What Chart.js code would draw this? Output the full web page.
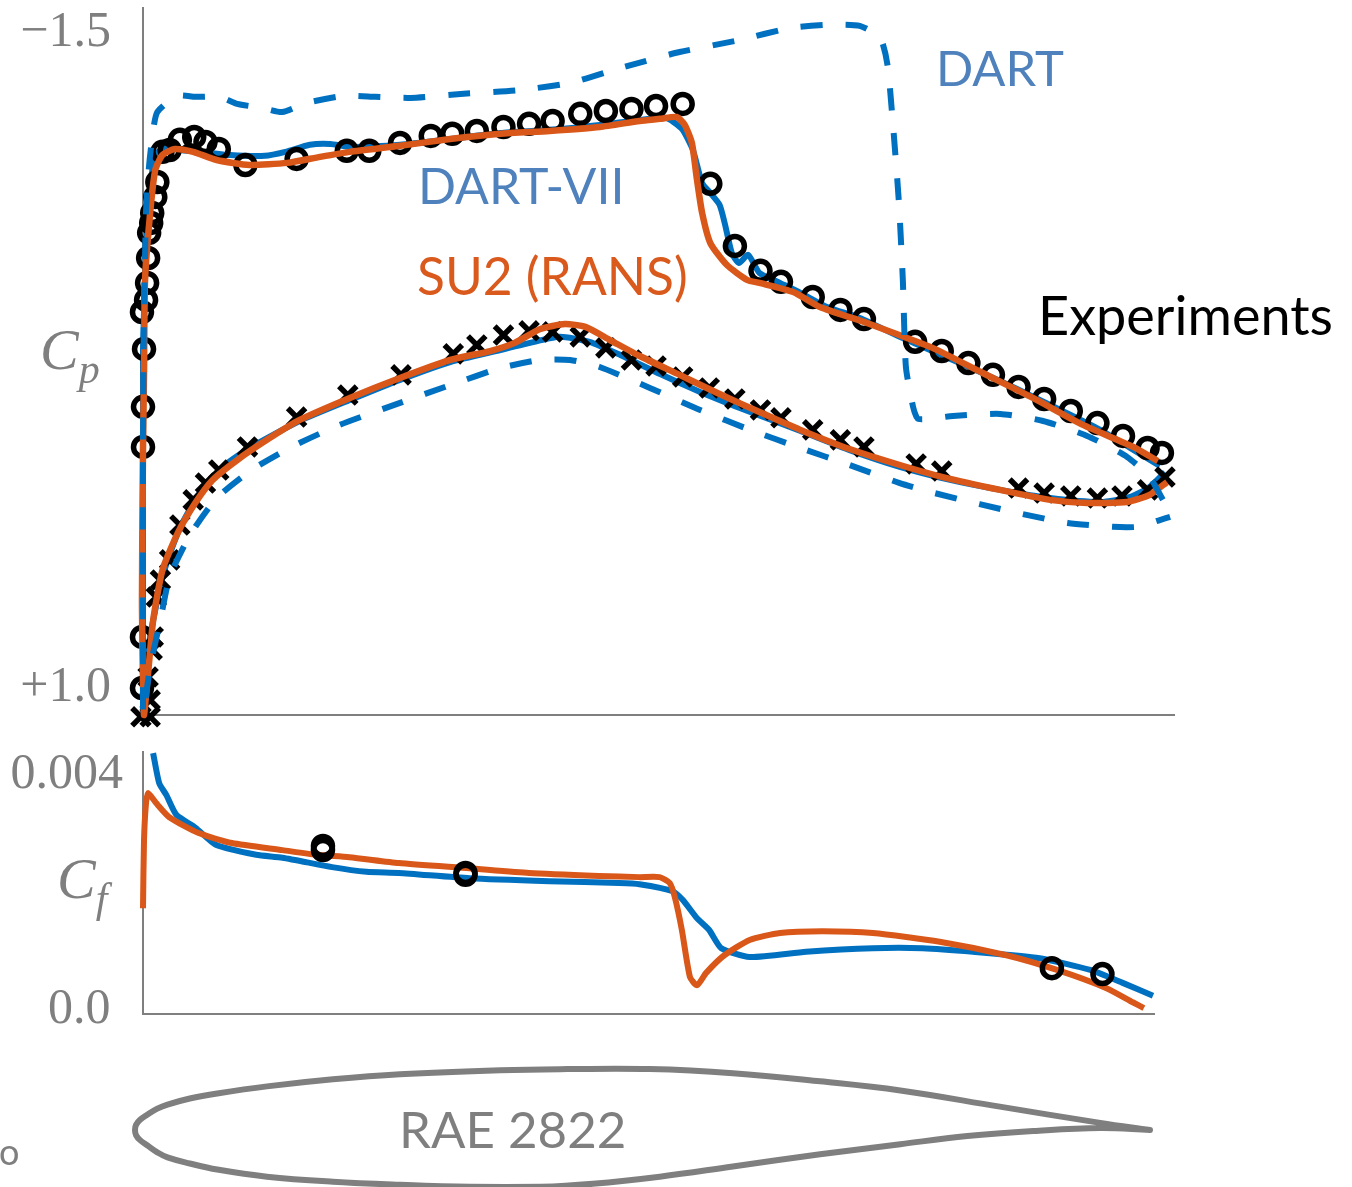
<!DOCTYPE html>
<html lang="en">
<head>
  <meta charset="UTF-8">
  <title>RAE 2822 Cp and Cf</title>
  <style>
    body { margin: 0; background: white; }
    #page { position: relative; width: 1352px; height: 1187px; overflow: hidden; }
    #page canvas { position: absolute; left: 0; }
    .label { position: absolute; white-space: nowrap; line-height: 1; font-family: Lato, sans-serif; font-size: 50px; }
    .math { font-family: "Liberation Serif", serif; font-style: italic; color: #7f7f7f; font-size: 58px; }
    .math sub { font-size: 42px; line-height: 0; vertical-align: -14px; }
  </style>
  <script src="https://cdn.jsdelivr.net/npm/chart.js"></script>
</head>
<body>
  <div id="page">
    <canvas id="cpCanvas" width="1352" height="730" style="top:0"></canvas>
    <canvas id="cfCanvas" width="1352" height="300" style="top:740px"></canvas>
    <canvas id="foilCanvas" width="1352" height="147" style="top:1040px"></canvas>

    <span class="label" style="left:936px;top:43px;color:#4f81bd;font-size:49px">DART</span>
    <span class="label" style="left:418px;top:160px;color:#4f81bd">DART-VII</span>
    <span class="label" style="left:417px;top:250px;color:#d95a1c;font-size:51.5px">SU2 (RANS)</span>
    <span class="label" style="left:1038px;top:288px;color:#000;font-size:54px">Experiments</span>
    <span class="label math" style="left:40px;top:321px">C<sub>p</sub></span>
    <span class="label math" style="left:57px;top:850px">C<sub>f</sub></span>
    <span class="label" style="left:399px;top:1103px;color:#7f7f7f;font-size:51px">RAE 2822</span>
    <span class="label" style="left:-1px;top:1133px;font-size:36px;color:#7f7f7f">o</span>
  </div>

  <script>
    const cpTicks = [-1.5, 1.0];
    const cpTickLabels = ["\u22121.5", "+1.0"];
    const cfTicks = [0.004, 0];
    const cfTickLabels = ["0.004", "0.0 "];

    // x/c, Cp, leading edge to trailing edge
    const expUpper = [[.002,.080],[.002,-.073],[.003,-.294],[.001,-.435],[.005,-.481],[.006,-.546],[.007,-.641],[.008,-.737],[.010,-.775],[.011,-.813],[.014,-.874],[.016,-.931],[.021,-1.046],[.028,-1.053],[.038,-1.092],[.052,-1.103],[.063,-1.084],[.076,-1.057],[.102,-.996],[.152,-1.019],[.201,-1.050],[.223,-1.050],[.253,-1.080],[.283,-1.107],[.304,-1.115],[.328,-1.126],[.354,-1.141],[.379,-1.153],[.402,-1.164],[.429,-1.191],[.454,-1.202],[.479,-1.210],[.503,-1.221],[.529,-1.229],[.556,-.924],[.580,-.687],[.605,-.592],[.625,-.550],[.656,-.492],[.683,-.443],[.706,-.408],[.756,-.321],[.782,-.286],[.808,-.240],[.832,-.195],[.857,-.149],[.882,-.103],[.908,-.057],[.934,-.011],[.959,.038],[.983,.084],[.997,.103],[.001,.805],[.001,1.0]];
    const expLower = [[.000,1.11],[.009,1.11],[.009,1.046],[.007,.958],[.011,.855],[.012,.805],[.015,.653],[.019,.588],[.028,.511],[.038,.378],[.051,.282],[.063,.218],[.076,.168],[.104,.080],[.152,-.034],[.202,-.118],[.254,-.195],[.305,-.275],[.328,-.309],[.354,-.347],[.379,-.363],[.402,-.359],[.429,-.340],[.454,-.298],[.479,-.252],[.503,-.229],[.529,-.187],[.555,-.145],[.580,-.103],[.605,-.061],[.625,-.031],[.656,.015],[.683,.053],[.706,.080],[.757,.145],[.782,.172],[.857,.237],[.882,.256],[.908,.267],[.934,.275],[.958,.267],[.983,.244],[1.000,.195]];

    const viiUpper = [[.002,1.103],[.002,.664],[.002,.080],[.002,-.290],[.005,-.672],[.009,-.901],[.014,-1.034],[.023,-1.061],[.038,-1.053],[.058,-1.046],[.087,-1.034],[.121,-1.031],[.141,-1.046],[.165,-1.073],[.185,-1.076],[.204,-1.065],[.253,-1.073],[.302,-1.095],[.351,-1.118],[.399,-1.130],[.448,-1.149],[.487,-1.168],[.512,-1.176],[.520,-1.160],[.529,-1.130],[.539,-1.053],[.548,-.927],[.556,-.889],[.565,-.844],[.570,-.775],[.577,-.660],[.584,-.622],[.593,-.653],[.604,-.584],[.624,-.546],[.644,-.508],[.670,-.454],[.702,-.412],[.741,-.340],[.839,-.172],[.888,-.080],[.937,.015],[.966,.084],[.995,.153]];
    const viiLower = [[.007,.855],[.014,.702],[.023,.550],[.038,.389],[.058,.252],[.082,.149],[.106,.084],[.155,-.019],[.204,-.099],[.253,-.176],[.302,-.244],[.351,-.290],[.380,-.317],[.409,-.340],[.438,-.321],[.468,-.271],[.507,-.198],[.546,-.130],[.595,-.053],[.644,.019],[.692,.092],[.741,.156],[.790,.206],[.839,.244],[.888,.275],[.937,.290],[.966,.271],[.985,.233],[1.000,.176]];

    const su2Upper = [[.003,1.103],[.001,.664],[.002,.092],[.003,-.202],[.004,-.557],[.009,-.813],[.014,-.977],[.021,-1.034],[.033,-1.057],[.051,-1.046],[.074,-1.015],[.106,-.996],[.143,-1.004],[.175,-1.027],[.204,-1.046],[.253,-1.069],[.302,-1.095],[.351,-1.115],[.399,-1.126],[.448,-1.141],[.487,-1.164],[.507,-1.172],[.523,-1.179],[.531,-1.149],[.538,-1.080],[.543,-.939],[.548,-.813],[.556,-.698],[.572,-.615],[.592,-.557],[.604,-.546],[.637,-.511],[.663,-.454],[.709,-.393],[.748,-.336],[.773,-.298],[.822,-.202],[.871,-.107],[.920,-.004],[.969,.080],[.993,.134]];
    const su2Lower = [[.007,.943],[.012,.740],[.021,.550],[.036,.408],[.053,.294],[.070,.206],[.094,.130],[.123,.053],[.155,-.023],[.204,-.107],[.253,-.183],[.302,-.252],[.341,-.286],[.365,-.317],[.390,-.370],[.414,-.389],[.434,-.378],[.458,-.328],[.487,-.267],[.526,-.195],[.565,-.122],[.604,-.053],[.644,.015],[.692,.088],[.741,.149],[.783,.195],[.839,.244],[.888,.282],[.924,.294],[.963,.290],[.985,.263],[1.002,.214]];

    const dartUpper = [[.002,1.103],[.002,.664],[.002,.080],[.003,-.481],[.004,-.645],[.005,-.824],[.008,-.996],[.012,-1.130],[.016,-1.198],[.035,-1.260],[.053,-1.256],[.077,-1.256],[.094,-1.229],[.118,-1.214],[.138,-1.198],[.162,-1.233],[.199,-1.260],[.229,-1.256],[.263,-1.252],[.312,-1.267],[.370,-1.282],[.419,-1.309],[.468,-1.366],[.526,-1.427],[.585,-1.473],[.634,-1.519],[.673,-1.531],[.702,-1.527],[.722,-1.481],[.729,-1.378],[.734,-1.168],[.740,-.863],[.744,-.557],[.747,-.225],[.754,-.073],[.759,-.027],[.793,-.038],[.839,-.046],[.881,-.019],[.924,.038],[.963,.118],[.985,.195],[.998,.282]];
    const dartLower = [[.009,.920],[.019,.740],[.028,.576],[.048,.416],[.074,.275],[.108,.168],[.147,.080],[.194,-.004],[.253,-.088],[.302,-.156],[.351,-.221],[.390,-.252],[.419,-.252],[.448,-.225],[.497,-.145],[.546,-.061],[.595,.015],[.644,.084],[.692,.149],[.741,.218],[.775,.256],[.819,.298],[.861,.336],[.905,.370],[.949,.385],[.973,.385],[.995,.359],[1.005,.347]];

    // x/c, Cf
    const viiCf = [[.010,.00444],[.016,.00393],[.023,.00373],[.033,.00339],[.052,.00317],[.072,.00288],[.112,.00271],[.138,.00266],[.187,.00250],[.221,.00242],[.253,.00240],[.323,.00231],[.402,.00226],[.471,.00223],[.491,.00221],[.524,.00209],[.534,.00194],[.548,.00163],[.560,.00143],[.572,.00112],[.600,.00097],[.656,.00106],[.722,.00112],[.771,.00112],[.821,.00106],[.887,.00095],[.937,.00075],[.969,.00053],[.999,.00031]];
    const su2Cf = [[.000,.00180],[.001,.00296],[.003,.00359],[.005,.00376],[.013,.00359],[.026,.00335],[.055,.00308],[.088,.00291],[.138,.00279],[.171,.00271],[.204,.00267],[.253,.00257],[.323,.00248],[.382,.00240],[.451,.00235],[.491,.00233],[.511,.00233],[.521,.00223],[.526,.00199],[.533,.00143],[.541,.00063],[.548,.00049],[.557,.00070],[.575,.00100],[.600,.00126],[.630,.00138],[.672,.00141],[.722,.00138],[.788,.00123],[.854,.00100],[.904,.00075],[.953,.00044],[.979,.00020],[.990,.00010]];
    const expCf = [[.178,.00286],[.178,.00279],[.319,.00240],[.319,.00237],[.899,.00078],[.949,.00068]];

    // airfoil outline, x/c, y/c
    const foilUpper = [[0,0],[.001,.005],[.005,.010],[.012,.015],[.022,.021],[.032,.025],[.054,.031],[.081,.036],[.130,.043],[.195,.050],[.261,.055],[.360,.059],[.426,.060],[.507,.060],[.589,.056],[.675,.048],[.754,.039],[.852,.023],[.951,.007],[1,0]];
    const foilLower = [[0,0],[.001,-.005],[.005,-.010],[.012,-.015],[.022,-.022],[.032,-.027],[.054,-.033],[.081,-.039],[.130,-.046],[.195,-.051],[.261,-.054],[.330,-.056],[.400,-.056],[.451,-.053],[.517,-.046],[.589,-.036],[.675,-.024],[.754,-.014],[.820,-.006],[.885,-.001],[.951,.002],[1,0]];

    const BLUE = "#0070c0";
    const ORANGE = "#d95719";
    const GREY = "#7f7f7f";
    const tickFont = { family: "'Liberation Serif', serif", size: 50 };

    function curve(data, color, width, dash) {
      return { data: data, showLine: true, borderColor: color, borderWidth: width, borderDash: dash || [], tension: 0.2,
               pointRadius: 0, borderJoinStyle: "round", clip: false };
    }
    function marks(data, style, radius, width) {
      return { data: data, showLine: false, pointStyle: style, pointRadius: radius, pointBorderColor: "#000",
               pointBackgroundColor: "transparent", pointBorderWidth: width, clip: false };
    }

    function baseOptions(padding, scales) {
      return {
        responsive: false,
        animation: false,
        layout: { padding: padding, autoPadding: false },
        plugins: { legend: { display: false }, tooltip: { enabled: false } },
        scales: scales
      };
    }
    function hiddenX(min, max) {
      return {
        type: "linear", min: min, max: max,
        grid: { display: false, drawTicks: false },
        ticks: { display: false },
        border: { color: GREY, width: 2 },
        afterFit: s => { s.height = 0; s.paddingLeft = 0; s.paddingRight = 0; }
      };
    }
    function valueY(min, max, values, labels, padding, offset, reverse) {
      return {
        type: "linear", min: min, max: max, reverse: reverse,
        grid: { display: false, drawTicks: false },
        border: { color: GREY, width: 2 },
        // labels may hang over the ends, keep the plot box where it is
        afterFit: s => { s.width = 143; s.paddingTop = 0; s.paddingBottom = 0; },
        afterBuildTicks: s => { s.ticks = values.map(v => ({ value: v })); },
        ticks: { autoSkip: false, color: GREY, font: tickFont, padding: padding, labelOffset: offset,
                 callback: (v, i) => labels[i] }
      };
    }

    new Chart(document.getElementById("cpCanvas"), {
      type: "scatter",
      data: { datasets: [
        curve([...dartUpper].reverse().concat(dartLower), BLUE, 6, [22, 23]),
        curve([...su2Upper].reverse().concat(su2Lower), ORANGE, 6.5),
        marks(expUpper, "circle", 9.5, 5.5),
        marks(expLower, "crossRot", 12.5, 5.5),
        curve([...viiUpper].reverse().concat(viiLower), BLUE, 6)
      ] },
      options: baseOptions({ top: 8, bottom: 15, right: 178 }, {
        x: hiddenX(.002, 1.0088),
        y: valueY(-1.595, 1.103, cpTicks, cpTickLabels, 32, 0, true)
      })
    });

    new Chart(document.getElementById("cfCanvas"), {
      type: "scatter",
      data: { datasets: [
        marks(expCf, "circle", 9.5, 5.5),
        curve(su2Cf, ORANGE, 6),
        curve(viiCf, BLUE, 6)
      ] },
      options: baseOptions({ top: 12, bottom: 26, right: 198 }, {
        x: hiddenX(0, 1),
        y: valueY(0, .00446, cfTicks, cfTickLabels, 20, -4, false)
      })
    });

    new Chart(document.getElementById("foilCanvas"), {
      type: "scatter",
      data: { datasets: [
        Object.assign(curve([...foilUpper].reverse().concat(foilLower.slice(1)), GREY, 6),
                      { tension: 0.4, borderCapStyle: "round" })
      ] },
      options: baseOptions({ left: 135, right: 202 }, {
        x: { type: "linear", min: 0, max: 1, display: false },
        y: { type: "linear", min: -.0562, max: .0887, display: false }
      })
    });
  </script>
</body>
</html>
